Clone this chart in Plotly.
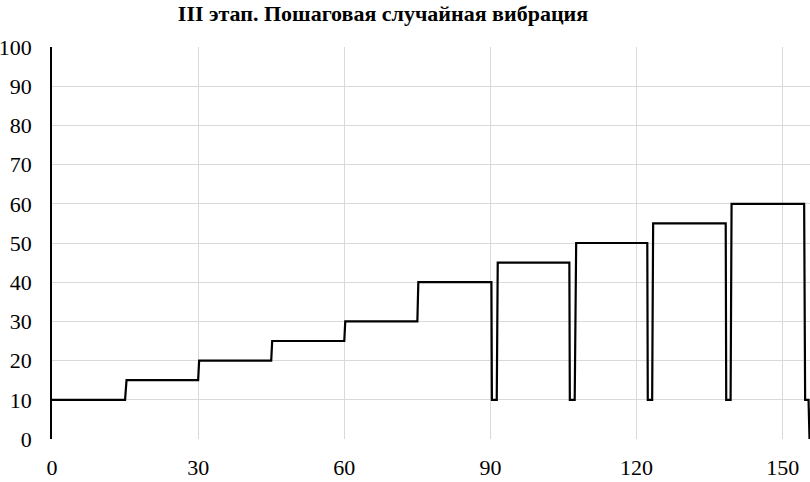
import plotly.graph_objects as go

# Time (x) and vibration level (y) of the step profile
time = [0, 15, 15.3, 30, 30.2, 45, 45.2, 60, 60.2, 75, 75.2, 90.2, 90.3, 91.3, 91.5,
        106.2, 106.3, 107.3, 107.6, 122.2, 122.3, 123.2, 123.4, 138.3, 138.4, 139.3, 139.5,
        154.4, 154.6, 155.3, 155.5]
level = [10, 10, 15, 15, 20, 20, 25, 25, 30, 30, 40, 40, 10, 10, 45,
         45, 10, 10, 50, 50, 10, 10, 55, 55, 10, 10, 60,
         60, 10, 10, 0]

x_ticks = [0, 30, 60, 90, 120, 150]
y_ticks = [0, 10, 20, 30, 40, 50, 60, 70, 80, 90, 100]
title_text = "III этап. Пошаговая случайная вибрация"

font_family = "Liberation Serif, Times New Roman, serif"

W, H = 810, 482

fig = go.Figure()
fig.add_trace(go.Scatter(x=time, y=level, mode="lines",
                         line=dict(color="black", width=2.2), showlegend=False,
                         cliponaxis=False))

fig.update_layout(
    width=W, height=H,
    margin=dict(l=52, r=0, t=47, b=43, autoexpand=False),
    paper_bgcolor="white", plot_bgcolor="white",
    font=dict(family=font_family, color="black"),
    title=dict(text="<b>" + title_text + "</b>", x=383 / W, xanchor="center",
               y=1 - 13 / H, yanchor="middle",
               font=dict(family=font_family, size=22, color="black")),
)
fig.update_xaxes(range=[0, 155.6], tickvals=x_ticks, showgrid=True, gridcolor="#d9d9d9",
                 gridwidth=1, zeroline=False, showline=False, ticks="", automargin=False,
                 tickfont=dict(size=22), ticklabelstandoff=13)
fig.update_yaxes(range=[0, 100], tickvals=y_ticks, showgrid=True, gridcolor="#d9d9d9",
                 gridwidth=1, zeroline=False, showline=True, linecolor="black", linewidth=1.5,
                 ticks="", automargin=False, tickfont=dict(size=22), ticklabelstandoff=14)

# remove the default 8px body margin so the figure fills the window exactly
fig.write_html("out.html", config={"displayModeBar": False},
               post_script="document.body.style.margin='0';document.body.style.overflow='hidden';")
